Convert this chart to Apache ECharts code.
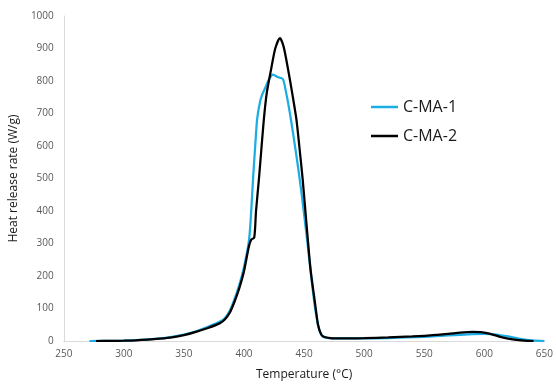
<!DOCTYPE html>
<html>
<head>
<meta charset="utf-8">
<script src="https://cdn.jsdelivr.net/npm/echarts@6/dist/echarts.min.js"></script>
<style>html,body{margin:0;padding:0;background:#fff}#c{width:556px;height:386px}</style>
</head>
<body>
<div id="c"></div>
<script>
const seriesNames = ['C-MA-1', 'C-MA-2'];
// C-MA-1: [temperature (°C), heat release rate (W/g)]
const cma1 = [[271.4,0],[290,0.5],[300,1.5],[310,3],[320,5],[330,8],[340,13],[350,20],[360,30],[370,44],[380,60],[384,70],[388,92],[392,128],[396,172],[400,228],[404.2,312],[406,400],[407.7,510],[409.5,610],[410.9,682],[413,730],[415,757],[417.3,776],[420.6,804],[424.1,820],[428,812],[432.3,806],[435,765],[438,705],[441,635],[444,560],[447,480],[450,390],[453,295],[456,195],[459,105],[462,42],[464.5,18],[467,11],[475,8],[500,8],[520,9],[550,13],[570,17],[590,21],[600,22],[610,20],[620,14],[631,6],[640,2],[650,0]];
// C-MA-2
const cma2 = [[276.8,0],[290,0.5],[300,1],[310,2],[320,4],[330,7],[340,11],[350,18],[360,28],[370,40],[380,55],[384,66],[388,86],[392,120],[396,162],[400,215],[404,290],[406,312],[408.5,318],[410,400],[412.4,498],[414,570],[416.5,682],[419,765],[422.5,835],[426,900],[429.9,932],[433,905],[436.7,835],[440,765],[443.6,682],[446,600],[448.8,498],[452,360],[455.3,223],[458.9,122],[461.6,50],[464,22],[466,14],[472,9],[480,8],[500,9],[520,11],[540,14],[550,16],[560,19],[570,22],[580,26],[590,28],[597,27],[605,22],[615,11],[625,4],[633,1],[641,0]];
const xTicks = {min: 250, max: 650, interval: 50};
const yTicks = {min: 0, max: 1000, interval: 100};
const xName = 'Temperature (°C)';
const yName = 'Heat release rate (W/g)';

const chart = echarts.init(document.getElementById('c'), null, {renderer: 'canvas'});
const font = '"Open Sans", "Noto Sans", sans-serif';
chart.setOption({
  animation: false,
  textStyle: {fontFamily: font},
  grid: {left: 59, right: 10, top: 16, bottom: 43, containLabel: false},
  legend: {
    orient: 'vertical', left: 366, top: 94,
    icon: 'rect', itemWidth: 27, itemHeight: 2.5, itemGap: 13,
    textStyle: {fontSize: 16, color: '#1a1a1a', fontFamily: font},
    data: seriesNames
  },
  xAxis: {
    type: 'value', min: xTicks.min, max: xTicks.max, interval: xTicks.interval,
    name: xName, nameLocation: 'middle', nameGap: 28,
    nameTextStyle: {fontSize: 12, color: '#1a1a1a'},
    axisLine: {show: true, lineStyle: {color: '#d9d9d9', width: 1}},
    axisTick: {show: false}, splitLine: {show: false},
    axisLabel: {fontSize: 10, color: '#595959', margin: 8, formatter: v => String(v)}
  },
  yAxis: {
    type: 'value', min: yTicks.min, max: yTicks.max, interval: yTicks.interval,
    name: yName, nameLocation: 'middle', nameGap: 35,
    nameTextStyle: {fontSize: 12, color: '#1a1a1a'},
    axisLine: {show: true, lineStyle: {color: '#d9d9d9', width: 1}},
    axisTick: {show: false}, splitLine: {show: false},
    axisLabel: {fontSize: 10, color: '#595959', margin: 10, formatter: v => String(v)}
  },
  series: [
    {name: seriesNames[0], type: 'line', data: cma1, showSymbol: false, symbol: 'none', smooth: 0.25,
     lineStyle: {color: '#1CADE4', width: 2.25}, itemStyle: {color: '#1CADE4'}},
    {name: seriesNames[1], type: 'line', data: cma2, showSymbol: false, symbol: 'none', smooth: 0.25,
     lineStyle: {color: '#000000', width: 2.25}, itemStyle: {color: '#000000'}}
  ]
});
</script>
</body>
</html>
